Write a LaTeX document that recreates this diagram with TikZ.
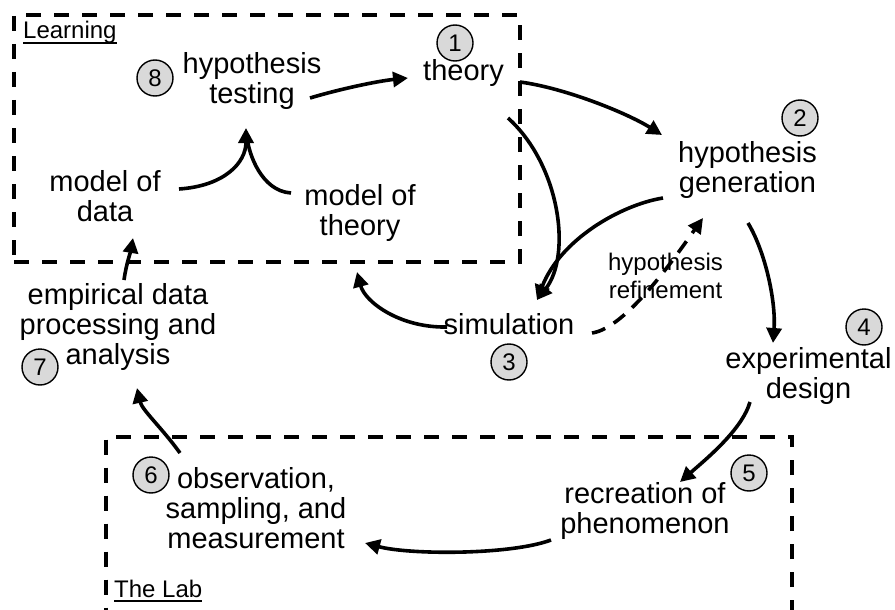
\documentclass[tikz,border=0pt]{standalone}
\usepackage{fontspec}
\setmainfont{Liberation Sans}
\usetikzlibrary{arrows.meta}
\definecolor{numgray}{HTML}{D9D9D9}
\begin{document}
\begin{tikzpicture}[x=1pt,y=-1pt,
  lbl/.style={align=center, inner sep=0pt, font=\fontsize{29}{30}\selectfont,
    execute at begin node=\strut, execute at end node=\strut},
  small/.style={align=center, inner sep=0pt, font=\fontsize{24}{28}\selectfont},
  num/.style={circle, draw, line width=1.4pt, fill=numgray, minimum size=36pt,
    inner sep=0pt, font=\fontsize{24}{24}\selectfont},
  region/.style={draw, line width=4pt, dash pattern=on 15pt off 13pt,
    inner sep=0pt, fill=none},
  conn/.style={line width=3.6pt, -{Triangle[length=15pt,width=15pt]}},
  plain/.style={line width=3.6pt},
  refine/.style={conn, dash pattern=on 14pt off 10pt},
  uline/.style={line width=2pt}]
\useasboundingbox (0,0) rectangle (895,610);
\clip (0,0) rectangle (895,610);

% the two regions
\node[region, minimum width=506pt, minimum height=247pt] (learn) at (267,138.5) {};
\node[region, minimum width=686.5pt, minimum height=220pt] (lab) at (449,546.5) {};

% region titles
\node[small, anchor=base west] (learnlbl) at (23,38.5) {Learning};
\draw[uline] ([yshift=-4.5pt]learnlbl.base west) -- ([yshift=-4.5pt]learnlbl.base east);
\node[small, anchor=base west] (lablbl) at (114,597) {The Lab};
\draw[uline] ([yshift=-3.5pt]lablbl.base west) -- ([yshift=-3.5pt]lablbl.base east);

% stages
\node[lbl] (ht)  at (252,82)    {hypothesis\\testing};
\node[lbl] (th)  at (463.5,74)  {theory};
\node[lbl] (hg)  at (747.5,171) {hypothesis\\generation};
\node[lbl] (sim) at (509,328)   {simulation};
\node[lbl] (exp) at (808.5,377) {experimental\\design};
\node[lbl] (rec) at (645,512)   {recreation of\\phenomenon};
\node[lbl] (obs) at (256,512)   {observation,\\sampling, and\\measurement};
\node[lbl] (emp) at (118,328)   {empirical data\\processing and\\analysis};
\node[lbl] (md)  at (105,200)   {model of\\data};
\node[lbl] (mt)  at (360,214)   {model of\\theory};
\node[small] (rf) at (665.5,276) {hypothesis\\refinement};

% step numbers
\node[num] (n1) at (455,43)  {1};
\node[num] (n2) at (800,118) {2};
\node[num] (n3) at (509,362) {3};
\node[num] (n4) at (864,327) {4};
\node[num] (n5) at (749,473) {5};
\node[num] (n6) at (151,475) {6};
\node[num] (n7) at (40,367)  {7};
\node[num] (n8) at (155,78)  {8};

% where the two models meet
\coordinate (join) at (246,128);

% connectors
\draw[conn] ([shift={(58,16)}]ht.center) .. controls +(30,-9) and +(-30,3) .. ([shift={(-55.5,4)}]th.center);
\draw[conn] ([shift={(56.5,8)}]th.center) .. controls +(45,6) and +(-35,-22) .. ([shift={(-85.5,-36)}]hg.center);
\draw[conn] ([shift={(44.5,44)}]th.center) .. controls +(52,47) and +(35,-45) .. ([shift={(28,-28)}]sim.center);
\draw[conn] ([shift={(-84.5,27)}]hg.center) .. controls +(-43,7) and +(23,-60) .. ([shift={(28,-28)}]sim.center);
\draw[refine] ([shift={(83,5)}]sim.center) .. controls +(35,-5) and +(-25,35) .. ([shift={(-44.5,47)}]hg.center);
\draw[conn] ([shift={(0.5,52)}]hg.center) .. controls +(18,30) and +(3,-40) .. ([shift={(-35.5,-34)}]exp.center);
\draw[conn] ([shift={(-62,-1)}]sim.center) .. controls +(-47,1) and +(8,30) .. ([shift={(90,8)}]learn.south);
\draw[conn] ([shift={(6,-48)}]emp.center) .. controls +(2,-15) and +(-2,12) .. ([shift={(28,38)}]md.center);
\draw[conn] ([shift={(-76,-59)}]obs.center) .. controls +(-18,-25) and +(5,22) .. ([shift={(19,60)}]emp.center);
\draw[conn] ([shift={(-58.5,25)}]exp.center) .. controls +(-8,28) and +(25,-22) .. ([shift={(35,-30)}]rec.center);
\draw[conn] ([shift={(-94,28)}]rec.center) .. controls +(-40,15) and +(45,12) .. ([shift={(109,31)}]obs.center);
\draw[conn] ([shift={(74,-11)}]md.center) .. controls +(45,-3) and +(0,35) .. (join);
\draw[plain, shorten >=12pt] ([shift={(-69,-21)}]mt.center) .. controls +(-30,-2) and +(3,25) .. (join);
\end{tikzpicture}
\end{document}
